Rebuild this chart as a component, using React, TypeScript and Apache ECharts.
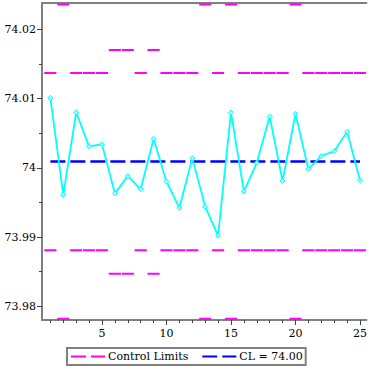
import React, { useEffect, useRef } from "react";
import * as echarts from "echarts";

const subgroups = [1,2,3,4,5,6,7,8,9,10,11,12,13,14,15,16,17,18,19,20,21,22,23,24,25];
const means = [74.0101, 73.9961, 74.0080, 74.0031, 74.0034, 73.9963, 73.9988, 73.9969, 74.0042, 73.9980, 73.9942, 74.0014, 73.9944, 73.9902, 74.0080, 73.9966, 74.0007, 74.0074, 73.9981, 74.0078, 73.9998, 74.0017, 74.0024, 74.0052, 73.9982];
const ucl = [74.0137, 74.0236, 74.0137, 74.0137, 74.0137, 74.0170, 74.0170, 74.0137, 74.0170, 74.0137, 74.0137, 74.0137, 74.0236, 74.0137, 74.0236, 74.0137, 74.0137, 74.0137, 74.0137, 74.0236, 74.0137, 74.0137, 74.0137, 74.0137, 74.0137];
const lcl = [73.9881, 73.9782, 73.9881, 73.9881, 73.9881, 73.9847, 73.9847, 73.9881, 73.9847, 73.9881, 73.9881, 73.9881, 73.9782, 73.9881, 73.9782, 73.9881, 73.9881, 73.9881, 73.9881, 73.9782, 73.9881, 73.9881, 73.9881, 73.9881, 73.9881];
const centerLine = 74.0009;
const yTicks = [73.98, 73.99, 74, 74.01, 74.02];
const yMinorTicks = [73.985, 73.995, 74.005, 74.015];
const xTicks = [5, 10, 15, 20, 25];
const legendNames = ["Control Limits", "CL = 74.00"];

const FONT = "'DejaVu Serif', serif";
const AXIS_GRAY = "#808080";
const TICK_COLOR = "#404040";
const DASH_ICON = "path://M0,0H15V2H0Z M20,0H34V2H20Z";

export default function App() {
  const ref = useRef<HTMLDivElement>(null);
  useEffect(() => {
    if (!ref.current) return;
    const chart = echarts.init(ref.current, null, { renderer: "svg" });
    const yMin = 73.97802;
    const yMax = 74.0238;
    const xMin = 0.35;
    const xMax = 25.5;

    const limitData: any[] = [];
    subgroups.forEach((s, i) => {
      limitData.push([s - 0.47, ucl[i]], [s + 0.47, ucl[i]], [s, null]);
    });
    subgroups.forEach((s, i) => {
      limitData.push([s - 0.47, lcl[i]], [s + 0.47, lcl[i]], [s, null]);
    });

    const option: any = {
      animation: false,
      grid: { left: 42, top: 3, right: 0, bottom: 50, containLabel: false },
      xAxis: [
        {
          type: "value", position: "bottom", min: xMin, max: xMax,
          axisLine: { show: true, onZero: false, lineStyle: { color: AXIS_GRAY, width: 2 } },
          axisTick: { show: true, customValues: xTicks, length: 5, lineStyle: { color: TICK_COLOR, width: 1 } },
          axisLabel: { show: true, customValues: xTicks, margin: 8, color: "#000", fontFamily: FONT, fontSize: 11 },
          splitLine: { show: false },
        },
        {
          type: "value", position: "bottom", min: xMin, max: xMax,
          axisLine: { show: false, onZero: false },
          axisTick: { show: true, customValues: subgroups, length: 3, lineStyle: { color: TICK_COLOR, width: 1 } },
          axisLabel: { show: false },
          splitLine: { show: false },
        },
        {
          type: "value", position: "top", min: xMin, max: xMax,
          axisLine: { show: true, onZero: false, lineStyle: { color: AXIS_GRAY, width: 2 } },
          axisTick: { show: false },
          axisLabel: { show: false },
          splitLine: { show: false },
        },
      ],
      yAxis: [
        {
          type: "value", position: "left", min: yMin, max: yMax,
          axisLine: { show: true, onZero: false, lineStyle: { color: AXIS_GRAY, width: 2 } },
          axisTick: { show: true, customValues: yTicks, length: 5, lineStyle: { color: TICK_COLOR, width: 1 } },
          axisLabel: {
            show: true, customValues: yTicks, margin: 6, color: "#000", fontFamily: FONT, fontSize: 11,
            formatter: (v: number) => String(Number(v.toFixed(2))),
          },
          splitLine: { show: false },
        },
        {
          type: "value", position: "left", min: yMin, max: yMax,
          axisLine: { show: false, onZero: false },
          axisTick: { show: true, customValues: yMinorTicks, length: 3, lineStyle: { color: TICK_COLOR, width: 1 } },
          axisLabel: { show: false },
          splitLine: { show: false },
        },
      ],
      legend: {
        data: [
          { name: legendNames[0], icon: DASH_ICON, itemStyle: { color: "#ff00ff", borderWidth: 0 } },
          { name: legendNames[1], icon: DASH_ICON, itemStyle: { color: "#0000ff", borderWidth: 0 } },
        ],
        left: 67, top: 348,
        padding: [3, 3, 3, 4],
        borderColor: AXIS_GRAY, borderWidth: 2,
        itemWidth: 34, itemHeight: 2.5, itemGap: 14,
        textStyle: { color: "#000", fontFamily: FONT, fontSize: 11, padding: [0, 0, 0, -2] },
      },
      series: [
        {
          name: legendNames[0], type: "line", xAxisIndex: 0, yAxisIndex: 0,
          data: limitData, symbol: "none", connectNulls: false,
          lineStyle: { color: "#ff00ff", width: 2 },
          itemStyle: { color: "#ff00ff" },
          z: 2,
        },
        {
          name: legendNames[1], type: "line", xAxisIndex: 0, yAxisIndex: 0,
          data: [[subgroups[0], centerLine], [subgroups[subgroups.length - 1], centerLine]],
          symbol: "none",
          lineStyle: { color: "#0000ff", width: 2.5, type: [15, 5] },
          itemStyle: { color: "#0000ff" },
          z: 3,
        },
        {
          name: "Means", type: "line", xAxisIndex: 0, yAxisIndex: 0,
          data: subgroups.map((s, i) => [s, means[i]]),
          symbol: "diamond", symbolSize: 5, showSymbol: true,
          lineStyle: { color: "#00ffff", width: 1.8 },
          itemStyle: { color: "#a0ffff", borderColor: "#00ffff", borderWidth: 1 },
          z: 4,
        },
      ],
    };
    chart.setOption(option);
    return () => chart.dispose();
  }, []);
  return (
    <div
      ref={ref}
      style={{ position: "fixed", left: 0, top: 0, width: 370, height: 370, background: "#fff" }}
    />
  );
}
